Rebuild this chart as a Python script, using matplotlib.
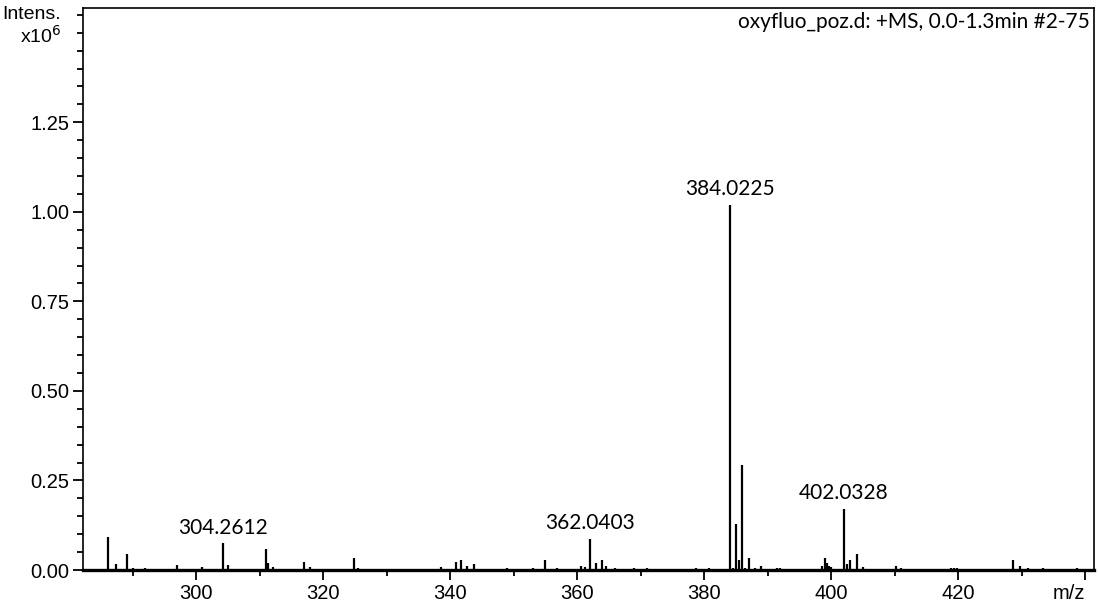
import matplotlib
matplotlib.use("Agg")
import matplotlib.pyplot as plt
from matplotlib.ticker import MultipleLocator

# Centroided peak list: m/z and intensity (x10^6)
mz = [286.1, 287.4, 289.2, 290.1, 292.0, 297.0, 301.0, 304.2612, 305.0,
      311.0, 311.4, 312.1, 317.0, 318.0, 324.8, 325.5, 330.8, 338.5,
      341.0, 341.8, 342.7, 343.7, 349.0, 353.0, 355.0, 356.9, 360.6,
      361.2, 362.0403, 363.0, 364.0, 364.5, 366.0, 369.0, 371.0, 373.0,
      378.7, 380.8, 384.0225, 384.5, 385.03, 385.5, 386.03, 386.5, 387.03,
      388.0, 389.0, 390.5, 391.5, 392.0, 393.0, 398.5, 399.0, 399.3,
      399.7, 400.0, 400.5, 402.0328, 402.5, 403.03, 404.03, 405.0, 406.0,
      409.0, 410.2, 411.0, 412.0, 418.8, 419.3, 419.8, 425.8, 428.7,
      429.7, 431.0, 433.4, 435.0, 438.7]
intensity = [0.092, 0.017, 0.045, 0.006, 0.005, 0.015, 0.007, 0.075, 0.015,
             0.058, 0.020, 0.008, 0.021, 0.007, 0.033, 0.006, 0.004, 0.009,
             0.022, 0.028, 0.012, 0.016, 0.005, 0.005, 0.028, 0.006, 0.010,
             0.008, 0.087, 0.020, 0.028, 0.012, 0.006, 0.005, 0.005, 0.004,
             0.006, 0.005, 1.020, 0.006, 0.129, 0.028, 0.293, 0.006, 0.033,
             0.005, 0.010, 0.004, 0.005, 0.005, 0.004, 0.012, 0.033, 0.020,
             0.012, 0.008, 0.004, 0.171, 0.018, 0.028, 0.045, 0.008, 0.004,
             0.004, 0.010, 0.005, 0.004, 0.005, 0.005, 0.005, 0.004, 0.028,
             0.010, 0.005, 0.005, 0.004, 0.005]

labelled_mz = [304.2612, 362.0403, 384.0225, 402.0328]
labelled_int = [0.075, 0.087, 1.020, 0.171]

x_ticks = [300, 320, 340, 360, 380, 400, 420, 440]
x_tick_labels = ["300", "320", "340", "360", "380", "400", "420", "m/z"]
y_ticks = [0.00, 0.25, 0.50, 0.75, 1.00, 1.25]
y_tick_labels = ["0.00", "0.25", "0.50", "0.75", "1.00", "1.25"]
title = "oxyfluo_poz.d: +MS, 0.0-1.3min #2-75"

fig = plt.figure(figsize=(10.99, 6.06), dpi=100)
ax = fig.add_axes([0.0755, 0.0594, 0.9200, 0.9274])

ax.vlines(mz, 0, intensity, colors="black", linewidth=1.6)

ax.set_xlim(282.2, 441.4)
ax.set_ylim(0, 1.569)

ax.set_xticks(x_ticks)
ax.set_xticklabels(x_tick_labels)
ax.xaxis.set_minor_locator(MultipleLocator(10))
ax.set_yticks(y_ticks)
ax.set_yticklabels(y_tick_labels)
ax.yaxis.set_minor_locator(MultipleLocator(0.05))

ax.tick_params(axis="both", which="major", direction="out", length=7,
               width=1.3, labelsize=14.5, pad=3)
ax.tick_params(axis="both", which="minor", direction="out", length=4.5,
               width=1.3)
for lab in ax.get_xticklabels() + ax.get_yticklabels():
    lab.set_family("Liberation Sans")
# unit label sits in place of the last x tick, kept inside the figure
ax.get_xticklabels()[-1].set_horizontalalignment("right")

for side in ["left", "top", "right"]:
    ax.spines[side].set_linewidth(1.2)
ax.spines["bottom"].set_linewidth(2.4)

for x, y in zip(labelled_mz, labelled_int):
    ax.annotate(f"{x:.4f}", xy=(x, y), xytext=(0, 4),
                textcoords="offset points", ha="center", va="bottom",
                fontsize=15, family="Lato")

ax.text(0.996, 0.993, title, transform=ax.transAxes, ha="right", va="top",
        fontsize=15, family="Lato")

ax.text(-0.0215, 1.55, "Intens.", transform=ax.get_yaxis_transform(),
        ha="right", va="center", fontsize=14, family="Liberation Sans")
ax.text(-0.0215, 1.49, r"x10$^{6}$", transform=ax.get_yaxis_transform(),
        ha="right", va="center", fontsize=14, family="Liberation Sans")

fig.savefig("out.png", dpi=100)
